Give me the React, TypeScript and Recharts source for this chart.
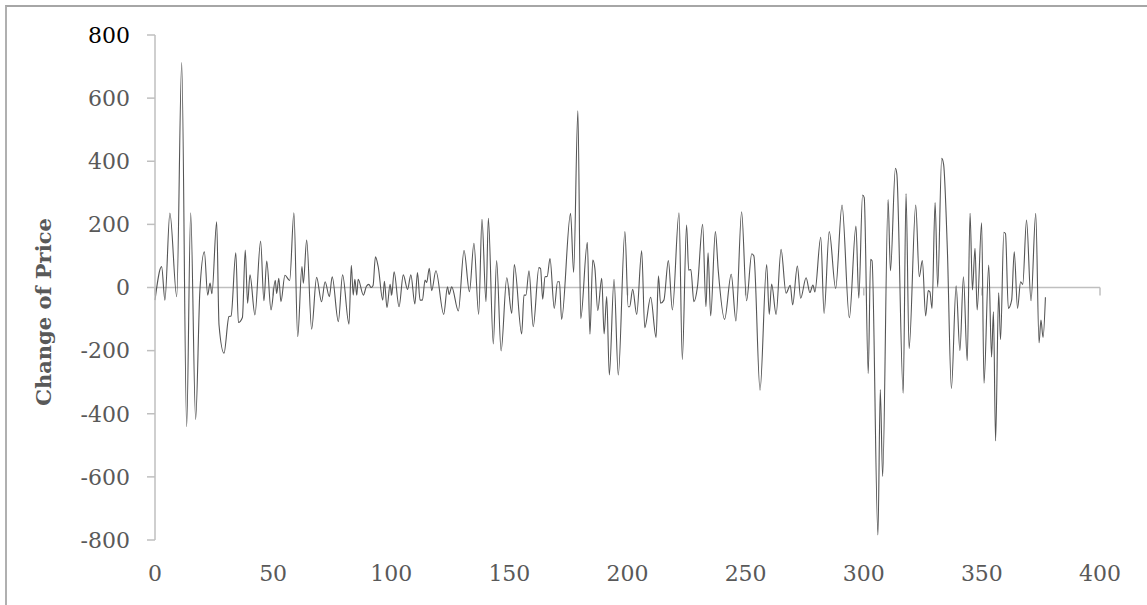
import React from "react";
import {
  LineChart,
  Line,
  XAxis,
  YAxis,
  ReferenceLine,
  Label,
} from "recharts";

const days = [
  0, 2.8, 4.2, 6.3, 9.2, 11.3, 13.4, 15.1, 17.2, 19, 20.9, 22.3, 23.3, 24.1, 26.1, 27.1, 29.2, 31.3, 32.2, 34.2,
  35.3, 37, 38.2, 39.2, 40.2, 42.3, 44.7, 46.1, 47.3, 49.1, 50.9, 51.5, 52.4, 53.3, 55, 57, 58.8, 60.4, 62.2, 62.8,
  64.2, 66.3, 68.4, 70.5, 72, 73.8, 75, 77.6, 79.4, 82.1, 83.1, 83.9, 84.6, 85.4, 86, 88.2, 89.5, 90.5, 91.5, 92.3,
  93.3, 94.5, 96.4, 97.1, 98.2, 99.5, 100.2, 101.2, 103.3, 105.1, 106.9, 108.3, 110, 111.1, 112.2, 113.2, 114.3, 115, 116.1, 117.1,
  118.9, 122.2, 123.8, 124.5, 125.6, 128.4, 130.8, 133.1, 135, 137, 138.4, 140.1, 141.1, 143.2, 144.6, 146.5, 148.9, 151, 152.1, 155.2,
  156.2, 157, 158.3, 160.1, 162.5, 163.2, 164.1, 165.1, 166, 167.2, 169, 170.4, 171.2, 172.1, 175.9, 177.2, 179, 180.2, 183, 184.1,
  185.3, 186.2, 187.4, 189.1, 190.1, 191.2, 192.3, 194.3, 196.1, 198.9, 200.3, 200.9, 202.2, 203.9, 206, 207.3, 209.8, 212.1, 213.1, 214,
  215.4, 217.3, 219, 221.8, 223.2, 225, 225.9, 226.8, 228.1, 229.6, 231.8, 233.2, 234.1, 235.2, 237.2, 238.4, 241.1, 243.9, 245.9, 248.3,
  250.4, 252.6, 253.5, 256.1, 258.9, 260, 261, 262.9, 265, 267.1, 268.9, 269.9, 271.9, 273.3, 275.6, 277.2, 278.5, 279.3, 281.8, 283.2,
  285.4, 288.1, 290.8, 293.9, 296.7, 297.9, 299.5, 300.2, 301.9, 302.9, 303.5, 306, 307, 308, 310.3, 311.3, 313.4, 314, 316.7, 317.9,
  319.2, 322, 323.5, 324.8, 326.2, 327.3, 328, 328.9, 330.2, 331.3, 333, 333.8, 335.4, 337.1, 339.1, 340.7, 342.2, 343.8, 345, 346,
  347.1, 348, 349.9, 350.9, 352.9, 354.1, 354.9, 355.8, 357.1, 357.9, 359.3, 360, 361.2, 362.6, 363.7, 365.1, 366.4, 367.3, 368.9, 370.8,
  372.8, 374.2, 375, 375.9, 376.9,
];

const changes = [
  -40, 66, -40, 236, -29, 713, -441, 237, -418, -10, 113, -24, 14, -20, 208, -119, -208, -92, -90, 110,
  -111, -95, 119, -50, 40, -87, 147, -42, 84, -71, 23, -19, 29, -45, 39, 22, 237, -156, 66, 14,
  150, -132, 32, -45, 18, -29, 34, -108, 40, -116, 70, -24, 26, -24, 26, -24, 4, 10, 0, 6,
  97, 65, -40, 20, -64, 10, -24, 50, -61, 40, -6, 40, -52, 47, -40, -40, 24, 16, 61, -10,
  53, -85, 2, -22, 2, -74, 117, -13, 140, -85, 216, -45, 219, -179, 85, -201, 31, -82, 73, -147,
  -24, -24, 53, -124, 63, 60, -37, 34, 35, 92, -66, 18, 18, -101, 235, 48, 560, -98, 143, -148,
  87, 60, -73, 29, -147, -29, -277, 26, -277, 177, -61, -61, -6, -85, 116, -127, -31, -158, 37, -50,
  -40, 85, -71, 237, -228, 198, 55, 57, -45, 2, 200, -61, 110, -90, 177, 55, -101, 42, -106, 240,
  -42, 107, 100, -325, 73, -85, 11, -85, 121, -18, 7, -55, 68, -34, 31, -16, 8, -14, 159, -82,
  177, -3, 261, -96, 195, -34, 293, 285, -272, 89, 85, -784, -323, -599, 279, 53, 378, 360, -335, 298,
  -193, 261, 34, 85, -90, -10, -14, -66, 269, 2, 409, 390, 118, -320, 5, -200, 34, -232, 235, -8,
  124, -71, 205, -303, 71, -220, -77, -486, -17, -165, 175, 170, -66, -40, 113, -66, 18, 10, 214, -42,
  235, -175, -103, -158, -31,
];

const xTicks = [0, 50, 100, 150, 200, 250, 300, 350, 400];
const yTicks = [-800, -600, -400, -200, 0, 200, 400, 600, 800];

const data = days.map((d, i) => ({ day: d, change: changes[i] }));

const FONT = "'DejaVu Serif', serif";

function YTick(props: any) {
  const { x, y, payload } = props;
  return (
    <text
      x={x}
      y={y}
      dy="0.355em"
      textAnchor="end"
      fontFamily={FONT}
      fontSize={22}
      fill={payload.value === 800 ? "#000000" : "#595959"}
    >
      {payload.value}
    </text>
  );
}

export default function App() {
  return (
    <div style={{ position: "absolute", left: 0, top: 0, width: 1147, height: 605, background: "#fff" }}>
      {/* frame of the original figure */}
      <div
        style={{
          position: "absolute",
          left: 5,
          top: 5,
          right: 0,
          bottom: 0,
          borderTop: "2px solid #a6a6a6",
          borderLeft: "2px solid #b0b0b0",
        }}
      />
      <LineChart
        width={1147}
        height={605}
        data={data}
        margin={{ top: 35, right: 47, left: 0, bottom: 0 }}
        style={{ position: "absolute", left: 0, top: 0 }}
      >
        <XAxis
          dataKey="day"
          type="number"
          domain={[0, 400]}
          ticks={xTicks}
          height={65}
          axisLine={false}
          tickLine={false}
          tickMargin={19}
          tick={{ fontFamily: FONT, fontSize: 22, fill: "#595959" }}
          interval={0}
        />
        <YAxis
          type="number"
          domain={[-800, 800]}
          ticks={yTicks}
          width={155}
          axisLine={{ stroke: "#bfbfbf", strokeWidth: 1.5 }}
          tickLine={{ stroke: "#bfbfbf", strokeWidth: 1.5 }}
          tickSize={8}
          tickMargin={17}
          tick={<YTick />}
          interval={0}
        >
          <Label
            content={() => (
              <text
                transform="translate(51,312) rotate(-90)"
                textAnchor="middle"
                fontFamily={FONT}
                fontWeight="bold"
                fontSize={21}
                fill="#595959"
              >
                Change of Price
              </text>
            )}
          />
        </YAxis>
        <ReferenceLine y={0} stroke="#bfbfbf" strokeWidth={1.5} />
        {xTicks.map((t) => (
          <ReferenceLine
            key={t}
            segment={[
              { x: t, y: 0 },
              { x: t, y: -25 },
            ]}
            stroke="#bfbfbf"
            strokeWidth={1.5}
          />
        ))}
        <Line
          type="monotone"
          dataKey="change"
          stroke="#555555"
          strokeWidth={1.1}
          dot={false}
          isAnimationActive={false}
        />
      </LineChart>
    </div>
  );
}
